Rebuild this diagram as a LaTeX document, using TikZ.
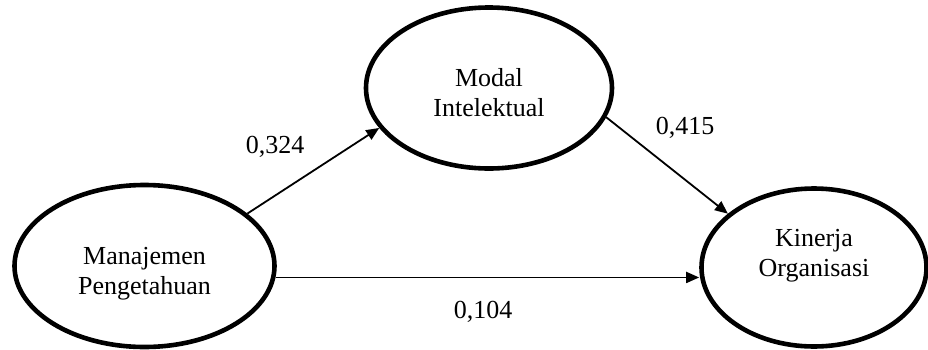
\documentclass[tikz,border=0pt]{standalone}
\usepackage{fontspec}
\setmainfont{Liberation Serif}
\usetikzlibrary{shapes.geometric, arrows.meta}

\tikzset{
  latent/.style={draw, ellipse, line width=2.3pt, inner sep=0pt},
  varlabel/.style={align=center, font=\fontsize{13}{15}\selectfont},
  path/.style={line width=0.9pt, -{Triangle[length=6.5pt, width=5.5pt]}},
  coef/.style={font=\fontsize{13}{15}\selectfont}
}

\begin{document}
\begin{tikzpicture}[x=0.5pt, y=-0.5pt]
  \useasboundingbox (0,0) rectangle (928,349);

  % variabel laten
  \node[latent, minimum width=130pt, minimum height=81pt,
    label={[varlabel, yshift=-3.75pt]center:{Manajemen\\Pengetahuan}}] (mp) at (144.5,266) {};
  \node[latent, minimum width=123pt, minimum height=80.5pt,
    label={[varlabel, yshift=-2.5pt]center:{Modal\\Intelektual}}] (mi) at (489,88) {};
  \node[latent, minimum width=112.5pt, minimum height=79pt,
    label={[varlabel, yshift=6pt]center:{Kinerja\\Organisasi}}] (ko) at (814,267.5) {};

  % jalur
  \draw[path] (mp.27) -- (mi.200);
  \draw[path] (mi.-14) -- (ko.148);
  \draw[path] (mp.-5.3) -- (mp.-5.3 -| ko.west);

  % koefisien jalur
  \node[coef] (c1) at (275,147) {0,324};
  \node[coef] (c2) at (685,128) {0,415};
  \node[coef] (c3) at (483,312) {0,104};
\end{tikzpicture}
\end{document}
